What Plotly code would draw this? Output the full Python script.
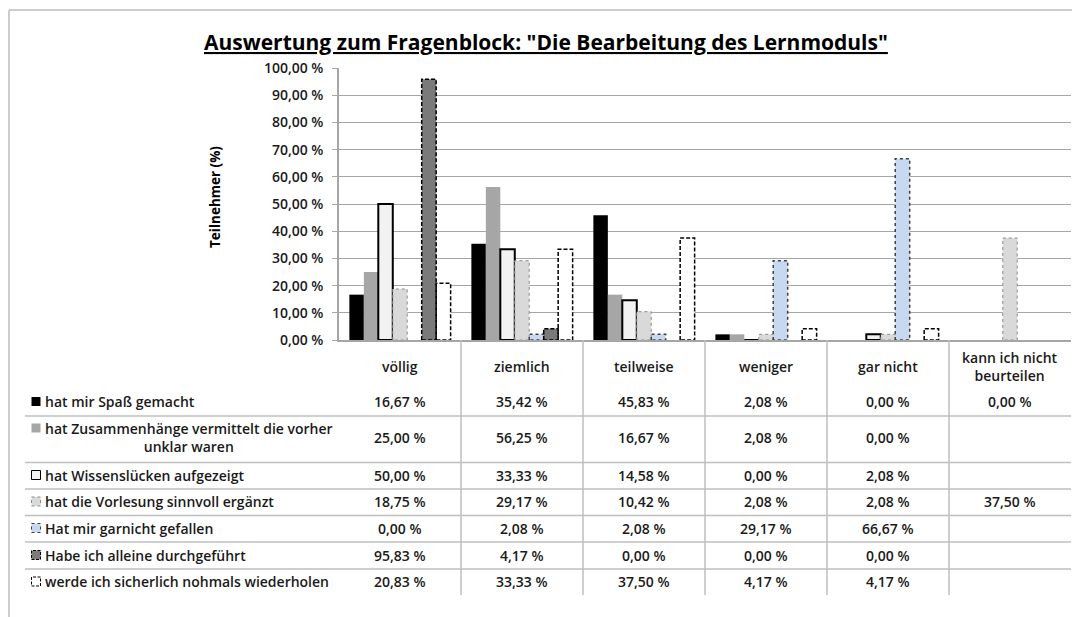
import plotly.graph_objects as go

# ---------------- data ----------------
categories = ["völlig", "ziemlich", "teilweise", "weniger", "gar nicht", "kann ich nicht<br>beurteilen"]
series_names = [
    "hat mir Spaß gemacht",
    "hat Zusammenhänge vermittelt die vorher<br>unklar waren",
    "hat Wissenslücken aufgezeigt",
    "hat die Vorlesung sinnvoll ergänzt",
    "Hat mir garnicht gefallen",
    "Habe ich alleine durchgeführt",
    "werde ich sicherlich nohmals wiederholen",
]
spass = [16.67, 35.42, 45.83, 2.08, 0.00, 0.00]
zusammenhaenge = [25.00, 56.25, 16.67, 2.08, 0.00, None]
wissensluecken = [50.00, 33.33, 14.58, 0.00, 2.08, None]
vorlesung = [18.75, 29.17, 10.42, 2.08, 2.08, 37.50]
garnicht = [0.00, 2.08, 2.08, 29.17, 66.67, None]
alleine = [95.83, 4.17, 0.00, 0.00, 0.00, None]
wiederholen = [20.83, 33.33, 37.50, 4.17, 4.17, None]
series_values = [spass, zusammenhaenge, wissensluecken, vorlesung, garnicht, alleine, wiederholen]
y_ticks = [0, 10, 20, 30, 40, 50, 60, 70, 80, 90, 100]

# ---------------- styles ----------------
fills = ["#000000", "#a6a6a6", "#f2f2f2", "#d9d9d9", "#c6d9f1", "#7a7a7a", "#ffffff"]
edge_col = [None, None, "#000000", "#8c8c8c", "#404040", "#000000", "#000000"]
edge_w = [0, 0, 2, 1, 1.5, 1.5, 1.5]
edge_dash = [None, None, "solid", "dot", "dot", "4px,2px", "4px,2px"]

FONT = "Open Sans"
W, H = 1072, 617
L, R, T, B = 339, 1071, 68, 340
PW, PH = R - L, B - T


def px(x):
    return (x - L) / PW


def py(y):
    return (B - y) / PH


def fmt(v):
    return ("%.2f" % v).replace(".", ",") + " %"


n = len(series_values)
gap = 0.17
bw = (1 - gap) / n
xs = list(range(len(categories)))

fig = go.Figure()
for i, vals in enumerate(series_values):
    fig.add_trace(go.Bar(
        x=xs, y=vals, width=bw, offset=-(1 - gap) / 2 + i * bw,
        marker=dict(color=fills[i],
                    line=dict(width=edge_w[i] if edge_dash[i] == "solid" else 0,
                              color=edge_col[i] or fills[i])),
        name=series_names[i], showlegend=False, hoverinfo="skip"))

# dashed / dotted outlines following bars
for i, vals in enumerate(series_values):
    if edge_dash[i] in (None, "solid"):
        continue
    ox, oy = [], []
    for c, v in zip(xs, vals):
        if v is None or v <= 0:
            continue
        x0 = c - (1 - gap) / 2 + i * bw
        x1 = x0 + bw
        ox += [x0, x0, x1, x1, x0, None]
        oy += [0, v, v, 0, 0, None]
    fig.add_trace(go.Scatter(x=ox, y=oy, mode="lines",
                             line=dict(color=edge_col[i], width=edge_w[i], dash=edge_dash[i]),
                             showlegend=False, hoverinfo="skip"))

shapes = []
annotations = []
tfont = dict(family=FONT, size=14, color="#1a1a1a", weight=600)

# outer frame
shapes.append(dict(type="line", xref="paper", yref="paper", x0=px(9), x1=px(1075), y0=py(10), y1=py(10),
                   line=dict(color="#bdbdbd", width=1.5)))
shapes.append(dict(type="line", xref="paper", yref="paper", x0=px(9), x1=px(9), y0=py(10), y1=py(620),
                   line=dict(color="#bdbdbd", width=1.5)))

# table vertical lines
for c in xs[1:]:
    shapes.append(dict(type="line", xref="x", yref="paper", x0=c - 0.5, x1=c - 0.5, y0=py(340), y1=py(595),
                       line=dict(color="#bfbfbf", width=1.5)))
# table horizontal lines
for yy in [416, 462.5, 489, 515.5, 542, 569]:
    shapes.append(dict(type="line", xref="paper", yref="paper", x0=px(25), x1=px(1071), y0=py(yy), y1=py(yy),
                       line=dict(color="#bfbfbf", width=1.5)))

# headers
for c, cat in zip(xs, categories):
    annotations.append(dict(xref="x", yref="paper", x=c, y=py(366), text=cat, showarrow=False,
                            font=tfont, xanchor="center", yanchor="middle", align="center"))

row_y = [401.5, 437.5, 475, 501.5, 528, 555, 581.5]
key_y = [401.5, 428, 475, 501.5, 528, 555, 581.5]
for i, (name, vals) in enumerate(zip(series_names, series_values)):
    ky = key_y[i]
    shapes.append(dict(type="rect", xref="paper", yref="paper", x0=px(31.5), x1=px(40.5),
                       y0=py(ky + 4.5), y1=py(ky - 4.5), fillcolor=fills[i],
                       line=dict(color=edge_col[i] or fills[i], width=1 if edge_col[i] else 0,
                                 dash="solid" if edge_dash[i] in (None, "solid") else ("dot" if edge_dash[i] == "dot" else "3px,1.5px"))))
    annotations.append(dict(xref="paper", yref="paper", x=px(43), y=py(row_y[i]), text=name, showarrow=False,
                            font=tfont, xanchor="left", yanchor="middle", align="center"))
    for c, v in zip(xs, vals):
        if v is None:
            continue
        annotations.append(dict(xref="x", yref="paper", x=c, y=py(row_y[i]), text=fmt(v), showarrow=False,
                                font=tfont, xanchor="center", yanchor="middle"))

# title
annotations.append(dict(xref="paper", yref="paper", x=px(545.5), y=py(42),
                        text="<b><u>Auswertung zum Fragenblock: \"Die Bearbeitung des Lernmoduls\"</u></b>",
                        showarrow=False, font=dict(family=FONT, size=21, color="#000000"),
                        xanchor="center", yanchor="middle"))
# y axis title
annotations.append(dict(xref="paper", yref="paper", x=px(215), y=py(197), text="<b>Teilnehmer (%)</b>",
                        textangle=-90, showarrow=False, font=dict(family=FONT, size=13.5, color="#000000"),
                        xanchor="center", yanchor="middle"))

fig.update_layout(
    width=W, height=H,
    margin=dict(l=L, r=W - R, t=T, b=H - B),
    paper_bgcolor="white", plot_bgcolor="white",
    barmode="overlay",
    shapes=shapes, annotations=annotations,
    xaxis=dict(range=[-0.5, len(categories) - 0.5], showticklabels=False, showgrid=False, zeroline=False,
               showline=True, linecolor="#a6a6a6", linewidth=1.5, ticks=""),
    yaxis=dict(range=[0, 100], tickvals=y_ticks, ticktext=[fmt(t) for t in y_ticks],
               showgrid=True, gridcolor="#a6a6a6", gridwidth=1, zeroline=False,
               showline=True, linecolor="#a6a6a6", linewidth=1.5, ticks="outside", ticklen=5,
               ticklabelstandoff=6,
               tickcolor="#a6a6a6", tickfont=dict(family=FONT, size=14, color="#1a1a1a", weight=600)),
)

fig.write_html("out.html", config={"displayModeBar": False},
               post_script="document.body.style.margin='0px';document.body.style.padding='0px';")
